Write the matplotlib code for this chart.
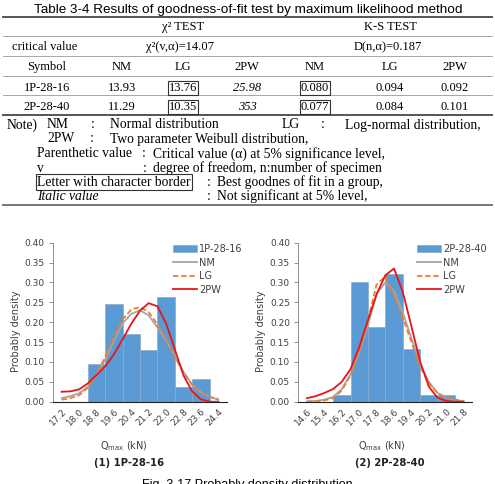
import matplotlib
matplotlib.use('Agg')
import matplotlib.pyplot as plt

W, H = 495, 484

# table data
tbl_cols = ['Symbol', 'NM', 'LG', '2PW', 'NM', 'LG', '2PW']
tbl_rows = ['1P-28-16', '2P-28-40']
tbl_vals = [['13.93', '13.76', '25.98', '0.080', '0.094', '0.092'],
            ['11.29', '10.35', '353', '0.077', '0.084', '0.101']]
tbl_boxed = [[False, True, False, True, False, False],
             [False, True, False, True, False, False]]
tbl_italic = [[False, False, True, False, False, False],
              [False, False, True, False, False, False]]

# histogram data (bin centres and density)
ticks1 = [17.2, 18.0, 18.8, 19.6, 20.4, 21.2, 22.0, 22.8, 23.6, 24.4]
bins1 = [18.8, 19.6, 20.4, 21.2, 22.0, 22.8, 23.6]
dens1 = [0.094, 0.245, 0.170, 0.131, 0.264, 0.036, 0.056]
xc1 = [17.2, 17.6, 18.0, 18.4, 18.8, 19.2, 19.6, 20.0, 20.4, 20.8,
       21.2, 21.6, 22.0, 22.4, 22.8, 23.2, 23.6, 24.0, 24.4]
nm1 = [0.009, 0.014, 0.021, 0.038, 0.067, 0.106, 0.153, 0.197, 0.221, 0.230,
       0.217, 0.187, 0.154, 0.114, 0.075, 0.043, 0.024, 0.012, 0.005]
lg1 = [0.005, 0.009, 0.016, 0.035, 0.068, 0.113, 0.163, 0.207, 0.232, 0.238,
       0.225, 0.195, 0.157, 0.113, 0.073, 0.042, 0.023, 0.012, 0.007]
pw1 = [0.025, 0.026, 0.031, 0.046, 0.067, 0.089, 0.119, 0.157, 0.196, 0.229,
       0.248, 0.240, 0.197, 0.132, 0.066, 0.026, 0.006, 0.000, 0.000]

ticks2 = [14.6, 15.4, 16.2, 17.0, 17.8, 18.6, 19.4, 20.2, 21.0, 21.8]
bins2 = [16.2, 17.0, 17.8, 18.6, 19.4, 20.2, 21.0]
dens2 = [0.018, 0.301, 0.189, 0.321, 0.133, 0.018, 0.018]
xc2 = [14.6, 15.0, 15.4, 15.8, 16.2, 16.6, 17.0, 17.4, 17.8, 18.2,
       18.6, 19.0, 19.4, 19.8, 20.2, 20.6, 21.0, 21.4, 21.8]
nm2 = [0.001, 0.002, 0.005, 0.012, 0.032, 0.069, 0.124, 0.192, 0.272, 0.300,
       0.278, 0.225, 0.160, 0.095, 0.050, 0.022, 0.010, 0.003, 0.001]
lg2 = [0.000, 0.001, 0.003, 0.009, 0.028, 0.066, 0.128, 0.205, 0.295, 0.315,
       0.268, 0.212, 0.150, 0.090, 0.046, 0.022, 0.010, 0.005, 0.002]
pw2 = [0.009, 0.014, 0.022, 0.032, 0.050, 0.082, 0.137, 0.205, 0.270, 0.318,
       0.335, 0.277, 0.190, 0.101, 0.038, 0.010, 0.002, 0.000, 0.000]


def fx(px):
    return px / W


def fy(py):
    return 1 - py / H


def hline(fig, py, lw, color):
    fig.add_artist(plt.Line2D([fx(3), fx(492)], [fy(py), fy(py)],
                              transform=fig.transFigure, lw=lw, color=color))


fig = plt.figure(figsize=(4.95, 4.84), dpi=100)
serif = 'Liberation Serif'

# ---- table ----
fig.text(fx(248), fy(10), 'Table 3-4 Results of goodness-of-fit test by maximum likelihood method',
         ha='center', va='center', fontsize=9.7, family='Liberation Sans')
for py, lw, c in [(17, 1.4, '#555555'), (36, 0.6, '#999999'), (56, 0.6, '#999999'),
                  (76, 0.6, '#999999'), (95, 0.6, '#999999'), (115, 1.4, '#555555'),
                  (205, 1.4, '#777777')]:
    hline(fig, py, lw, c)

tfs = 9
fig.text(fx(183), fy(27), 'χ² TEST', ha='center', va='center', fontsize=tfs, family=serif)
fig.text(fx(390), fy(27), 'K-S TEST', ha='center', va='center', fontsize=tfs, family=serif)
fig.text(fx(45), fy(47), 'critical value', ha='center', va='center', fontsize=tfs, family=serif)
fig.text(fx(180), fy(47), 'χ²(v,α)=14.07', ha='center', va='center', fontsize=tfs, family=serif)
fig.text(fx(388), fy(47), 'D(n,α)=0.187', ha='center', va='center', fontsize=tfs, family=serif)

col_x = [47, 122, 183, 247, 315, 390, 455]
for j, name in enumerate(tbl_cols):
    fig.text(fx(col_x[j]), fy(67), name, ha='center', va='center', fontsize=tfs, family=serif)
row_y = [88, 107]
for i, r in enumerate(tbl_rows):
    fig.text(fx(col_x[0]), fy(row_y[i]), r, ha='center', va='center', fontsize=tfs, family=serif)
    for j, v in enumerate(tbl_vals[i]):
        kw = {}
        if tbl_boxed[i][j]:
            kw['bbox'] = dict(boxstyle='square,pad=0.08', fc='none', ec='#333333', lw=0.8)
        fig.text(fx(col_x[j + 1]), fy(row_y[i]), v, ha='center', va='center', fontsize=tfs,
                 family=serif, style='italic' if tbl_italic[i][j] else 'normal', **kw)

# notes
nfs = 9.8
notes = [
    (7, 125, 'Note)', {}), (47, 125, 'NM', {}), (91, 125, ':', {}),
    (110, 125, 'Normal distribution', {}), (282, 125, 'LG', {}), (321, 125, ':', {}),
    (345, 125, 'Log-normal distribution,', {}),
    (47, 139, '2PW', {}), (90, 139, ':', {}), (110, 139, 'Two parameter Weibull distribution,', {}),
    (37, 154, 'Parenthetic value', {}), (142, 154, ':', {}),
    (153, 154, 'Critical value (α) at 5% significance level,', {}),
    (37, 168, 'v', {}), (143, 168, ':', {}),
    (153, 168, 'degree of freedom, n:number of specimen', {}),
    (37, 182, 'Letter with character border',
     {'bbox': dict(boxstyle='square,pad=0.08', fc='none', ec='#333333', lw=0.8)}),
    (207, 182, ':', {}), (217, 182, 'Best goodnes of fit in a group,', {}),
    (37, 196, 'Italic value', {'style': 'italic'}), (207, 196, ':', {}),
    (217, 196, 'Not significant at 5% level,', {}),
]
for px, py, s, kw in notes:
    fig.text(fx(px), fy(py), s, ha='left', va='center', fontsize=nfs, family=serif, **kw)

# ---- histograms ----
panels = [
    (53, ticks1, bins1, dens1, xc1, nm1, lg1, pw1, '1P-28-16', 0.408, 173, '(1) 1P-28-16', 129),
    (298.3, ticks2, bins2, dens2, xc2, nm2, lg2, pw2, '2P-28-40', 0.483, 417, '(2) 2P-28-40', 390),
]
for (left, ticks, bins, dens, xc, nm, lg, pw, name, xlab, legx, sub, subx) in panels:
    ax = fig.add_axes([fx(left), fy(401.7), 174 / W, 159 / H])
    ax.bar(bins, dens, width=0.8, color='#5B9BD5', edgecolor='#8EA9C8', lw=0.5,
           label=name, zorder=2)
    ax.plot(xc, nm, color='#A5A5A5', lw=1.3, label='NM', zorder=3)
    ax.plot(xc, lg, color='#ED7D31', lw=1.3, ls=(0, (3, 1.5)), label='LG', zorder=3)
    ax.plot(xc, pw, color='#E8141C', lw=1.3, label='2PW', zorder=4)
    ax.set_xlim(ticks[0] - 0.4, ticks[-1] + 0.4)
    ax.set_ylim(0, 0.40)
    ax.set_xticks(ticks)
    ax.set_xticklabels(['%.1f' % t for t in ticks], rotation=45, ha='right',
                       rotation_mode='anchor', fontsize=6.5, color='#404040')
    ax.set_yticks([0, 0.05, 0.10, 0.15, 0.20, 0.25, 0.30, 0.35, 0.40])
    ax.set_yticklabels(['%.2f' % t for t in ax.get_yticks()], fontsize=6.5, color='#404040')
    ax.tick_params(axis='x', length=0, pad=4)
    ax.tick_params(axis='y', length=3, width=0.6, color='#808080', pad=3)
    for s in ['top', 'right']:
        ax.spines[s].set_visible(False)
    ax.spines['left'].set_color('#808080')
    ax.spines['left'].set_linewidth(0.6)
    ax.spines['bottom'].set_color('#222222')
    ax.spines['bottom'].set_linewidth(0.8)
    ax.set_ylabel('Probably density', fontsize=7, color='#404040')
    ax.yaxis.set_label_coords(-0.185, 0.44)
    ax.set_xlabel('Q$_{\\mathregular{max}}$ (kN)', fontsize=7, color='#404040')
    ax.xaxis.set_label_coords(xlab, -0.235)
    h, l = ax.get_legend_handles_labels()
    h = [h[-1]] + h[:-1]
    l = [l[-1]] + l[:-1]
    ax.legend(h, l, loc='upper left', bbox_to_anchor=(fx(legx), fy(244)),
              bbox_transform=fig.transFigure, frameon=False, fontsize=7,
              handlelength=2.5, handletextpad=0.2, labelspacing=0.37, borderpad=0,
              borderaxespad=0, labelcolor='#404040')
    fig.text(fx(subx), fy(463), sub, ha='center', va='center', fontsize=7.2,
             fontweight='bold', color='#222222')

fig.text(fx(247), fy(479), 'Fig. 3-17 Probably density distribution', ha='center', va='top',
         fontsize=9, family='Liberation Sans')

fig.savefig('out.png', dpi=100)
